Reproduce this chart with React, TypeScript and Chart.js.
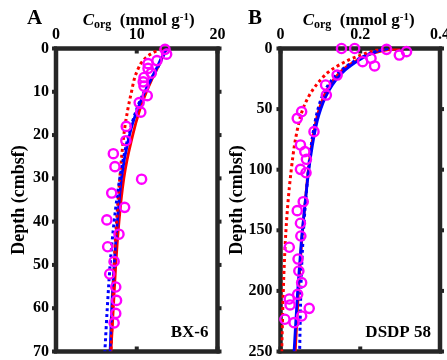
import React, { useEffect, useRef } from 'react';
import { Chart, registerables } from 'chart.js';

Chart.register(...registerables);

// ---------- Panel A (BX-6) ----------
const obsDepthA = [0.2, 1.3, 2.8, 3.5, 4.6, 5.7, 6.7, 7.7, 8.7, 10.9, 12.5, 14.7, 18.0, 21.3, 24.3, 27.3, 30.2, 33.4, 36.7, 39.6, 42.9, 45.8, 49.2, 52.1, 55.1, 58.2, 61.2, 63.4];
const obsCorgA = [13.5, 13.7, 12.5, 11.4, 11.4, 11.8, 10.9, 10.8, 10.9, 11.3, 10.3, 10.5, 8.7, 8.65, 7.1, 7.3, 10.6, 6.9, 8.5, 6.3, 7.8, 6.4, 7.2, 6.65, 7.4, 7.5, 7.4, 7.2];

const fitDepthA = [0, 2, 4, 7, 10, 14, 20, 30, 40, 50, 60, 70];
const redSolidA = [13.7, 13.2, 12.7, 11.9, 11.2, 10.4, 9.5, 8.4, 7.8, 7.4, 7.1, 6.8];
const blueSolidA = [13.7, 13.1, 12.6, 11.8, 11.0, 10.1, 9.1, 8.1, 7.6, 7.2, 6.9, 6.7];
const blueDottedA = [13.8, 13.2, 12.7, 11.8, 10.9, 10.0, 9.0, 7.9, 7.2, 6.7, 6.35, 6.05];
const redDotDepthA = [0, 1, 2, 3.5, 5, 7, 10, 14, 20, 30, 40, 50, 60, 70];
const redDottedA = [13.1, 12.0, 11.2, 10.5, 10.1, 9.7, 9.35, 8.9, 8.4, 7.9, 7.5, 7.2, 7.0, 6.8];

const xTicksA = [0, 10, 20];
const yTicksA = [0, 10, 20, 30, 40, 50, 60, 70];

// ---------- Panel B (DSDP 58) ----------
const obsDepthB = [0, 0, 0.7, 5.4, 2.6, 10.9, 8.1, 14.4, 21.9, 30.1, 38.4, 52.1, 57.6, 68.6, 79.6, 85.1, 91.4, 99.7, 102.5, 126.4, 133.8, 144.2, 154.7, 164, 173.7, 183.6, 193.2, 202.8, 206.7, 211.6, 214.4, 220.7, 223.4, 226.2];
const obsCorgB = [0.153, 0.186, 0.266, 0.298, 0.316, 0.206, 0.227, 0.236, 0.142, 0.113, 0.115, 0.053, 0.042, 0.084, 0.05, 0.061, 0.065, 0.05, 0.064, 0.057, 0.042, 0.05, 0.051, 0.022, 0.044, 0.046, 0.053, 0.043, 0.022, 0.024, 0.072, 0.053, 0.011, 0.034];

const fitDepthB = [0, 2, 5, 10, 15, 20, 30, 40, 50, 60, 80, 100, 130, 160, 200, 250];
const redSolidB = [0.30, 0.255, 0.222, 0.19, 0.166, 0.148, 0.124, 0.108, 0.097, 0.089, 0.078, 0.07, 0.061, 0.053, 0.045, 0.037];
const blueSolidB = [0.27, 0.245, 0.222, 0.195, 0.173, 0.155, 0.13, 0.113, 0.101, 0.092, 0.08, 0.071, 0.061, 0.052, 0.043, 0.034];
const blueDottedB = [0.27, 0.245, 0.218, 0.188, 0.164, 0.145, 0.12, 0.104, 0.094, 0.087, 0.077, 0.07, 0.062, 0.056, 0.051, 0.048];
const redDottedB = [0.26, 0.232, 0.205, 0.168, 0.14, 0.118, 0.09, 0.07, 0.056, 0.047, 0.035, 0.027, 0.018, 0.012, 0.007, 0.003];

const xTicksB = [0, 0.2, 0.4];
const yTicksB = [0, 50, 100, 150, 200, 250];

const SERIF = '"Liberation Serif", "Times New Roman", serif';
const FRAME = '#262626';

type PanelCfg = {
  letter: string;
  site: string;
  xMax: number;
  xStep: number;
  yMax: number;
  yStep: number;
  xTicks: number[];
  yTicks: number[];
  obsX: number[];
  obsY: number[];
  curves: { xs: number[]; ys: number[]; color: string; dotted: boolean }[];
  yAxisWidth: number;
  padRight: number;
  titleX: number;
  letterX: number;
  yTitlePad: number;
  yLabelPad: number;
};

function pairs(xs: number[], ys: number[]) {
  return xs.map((x, i) => ({ x, y: ys[i] }));
}

function Panel({ cfg, left, width }: { cfg: PanelCfg; left: number; width: number }) {
  const ref = useRef<HTMLCanvasElement | null>(null);
  useEffect(() => {
    if (!ref.current) return;
    const deco = {
      id: 'deco',
      beforeDatasetsDraw(chart: any) {
        const { ctx, chartArea: a, scales } = chart;
        ctx.save();
        ctx.fillStyle = FRAME;
        // tick marks
        for (const v of cfg.xTicks) {
          const px = scales.x.getPixelForValue(v);
          ctx.fillRect(px - 2, a.top, 4, 5);
          ctx.fillRect(px - 2, a.bottom - 5, 4, 5);
        }
        for (const v of cfg.yTicks) {
          const py = scales.y.getPixelForValue(v);
          ctx.fillRect(a.left - 4, py - 2, 5, 4);
          ctx.fillRect(a.right - 1, py - 2, 5, 4);
        }
        ctx.strokeStyle = FRAME;
        ctx.lineWidth = 4.5;
        ctx.strokeRect(a.left, a.top, a.right - a.left, a.bottom - a.top);
        ctx.restore();
      },
      afterDraw(chart: any) {
        const { ctx, chartArea: a } = chart;
        ctx.save();
        ctx.fillStyle = '#000';
        ctx.textBaseline = 'alphabetic';
        ctx.textAlign = 'left';
        // panel letter
        ctx.font = `bold 21px ${SERIF}`;
        ctx.fillText(cfg.letter, cfg.letterX, 24);
        // axis title C_org (mmol g^-1)
        let x = cfg.titleX;
        ctx.font = `italic bold 17px ${SERIF}`;
        ctx.fillText('C', x, 25);
        x += ctx.measureText('C').width;
        ctx.font = `bold 12px ${SERIF}`;
        ctx.fillText('org', x, 27.5);
        x += ctx.measureText('org').width;
        ctx.font = `bold 17px ${SERIF}`;
        const mid = '  (mmol g';
        ctx.fillText(mid, x, 25);
        x += ctx.measureText(mid).width;
        ctx.font = `bold 11px ${SERIF}`;
        ctx.fillText('-1', x, 20);
        x += ctx.measureText('-1').width;
        ctx.font = `bold 17px ${SERIF}`;
        ctx.fillText(')', x, 25);
        // site label
        ctx.textAlign = 'right';
        ctx.font = `bold 17px ${SERIF}`;
        ctx.fillText(cfg.site, a.right - 9, 337);
        ctx.restore();
      },
    };

    const datasets: any[] = [
      {
        label: 'Measured',
        data: pairs(cfg.obsX, cfg.obsY),
        showLine: false,
        pointStyle: 'circle',
        pointRadius: 4.6,
        pointBorderWidth: 2.4,
        pointBorderColor: '#ff00ff',
        pointBackgroundColor: 'rgba(0,0,0,0)',
        clip: false,
      },
      ...cfg.curves.map((c) => ({
        label: c.color + (c.dotted ? ' dotted' : ' solid'),
        data: pairs(c.xs, c.ys),
        showLine: true,
        pointRadius: 0,
        borderColor: c.color,
        borderWidth: c.dotted ? 3 : 2.8,
        borderDash: c.dotted ? [3, 3] : [],
        cubicInterpolationMode: 'monotone',
        tension: 0.4,
        fill: false,
      })),
    ];

    const tickFont = { family: SERIF, weight: 'bold' as const, size: 16 };

    const chart = new Chart(ref.current, {
      type: 'scatter',
      data: { datasets },
      plugins: [deco],
      options: {
        animation: false,
        responsive: false,
        maintainAspectRatio: false,
        devicePixelRatio: 1,
        layout: { padding: { left: 0, top: 0, right: cfg.padRight, bottom: 8.5 } },
        plugins: { legend: { display: false }, tooltip: { enabled: false }, title: { display: false } },
        scales: {
          x: {
            type: 'linear',
            position: 'top',
            min: 0,
            max: cfg.xMax,
            afterBuildTicks: (s: any) => {
              s.ticks = cfg.xTicks.map((v) => ({ value: v }));
            },
            ticks: { color: '#000', font: tickFont, padding: 4, maxRotation: 0, autoSkip: false },
            grid: { display: false, drawTicks: false },
            border: { display: false },
            afterFit: (s: any) => {
              s.height = 48.5;
              s.paddingLeft = 0;
              s.paddingRight = 0;
            },
          },
          y: {
            type: 'linear',
            reverse: true,
            min: 0,
            max: cfg.yMax,
            afterBuildTicks: (s: any) => {
              s.ticks = cfg.yTicks.map((v) => ({ value: v }));
            },
            ticks: { color: '#000', font: tickFont, padding: cfg.yLabelPad, autoSkip: false },
            grid: { display: false, drawTicks: false },
            border: { display: false },
            title: {
              display: true,
              text: 'Depth (cmbsf)',
              color: '#000',
              font: { family: SERIF, weight: 'bold', size: 18 },
              padding: { top: cfg.yTitlePad, bottom: 0 },
            },
            afterFit: (s: any) => {
              s.width = cfg.yAxisWidth;
              s.paddingTop = 0;
              s.paddingBottom = 0;
            },
          },
        },
      } as any,
    });
    return () => chart.destroy();
  }, [cfg]);

  return (
    <canvas
      ref={ref}
      width={width}
      height={360}
      style={{ position: 'absolute', left, top: 0, width, height: 360 }}
    />
  );
}

const cfgA: PanelCfg = {
  letter: 'A',
  site: 'BX-6',
  xMax: 20,
  xStep: 10,
  yMax: 70,
  yStep: 10,
  xTicks: xTicksA,
  yTicks: yTicksA,
  obsX: obsCorgA,
  obsY: obsDepthA,
  curves: [
    { xs: blueDottedA, ys: fitDepthA, color: '#0000ff', dotted: true },
    { xs: redDottedA, ys: redDotDepthA, color: '#ff0000', dotted: true },
    { xs: blueSolidA, ys: fitDepthA, color: '#0000ff', dotted: false },
    { xs: redSolidA, ys: fitDepthA, color: '#ff0000', dotted: false },
  ],
  yAxisWidth: 56,
  padRight: 14.5,
  titleX: 82.7,
  letterX: 27,
  yTitlePad: 8.5,
  yLabelPad: 7,
};

const cfgB: PanelCfg = {
  letter: 'B',
  site: 'DSDP 58',
  xMax: 0.4,
  xStep: 0.2,
  yMax: 250,
  yStep: 50,
  xTicks: xTicksB,
  yTicks: yTicksB,
  obsX: obsCorgB,
  obsY: obsDepthB,
  curves: [
    { xs: blueDottedB, ys: fitDepthB, color: '#0000ff', dotted: true },
    { xs: redDottedB, ys: fitDepthB, color: '#ff0000', dotted: true },
    { xs: blueSolidB, ys: fitDepthB, color: '#0000ff', dotted: false },
    { xs: redSolidB, ys: fitDepthB, color: '#ff0000', dotted: false },
  ],
  yAxisWidth: 56.5,
  padRight: 6,
  titleX: 78.7,
  letterX: 24,
  yTitlePad: 2.2,
  yLabelPad: 8,
};

export default function App() {
  return (
    <div
      style={{
        position: 'absolute',
        left: 0,
        top: 0,
        width: 447,
        height: 360,
        overflow: 'hidden',
        background: '#fff',
      }}
    >
      <Panel cfg={cfgA} left={0} width={232} />
      <Panel cfg={cfgB} left={224} width={223} />
    </div>
  );
}
